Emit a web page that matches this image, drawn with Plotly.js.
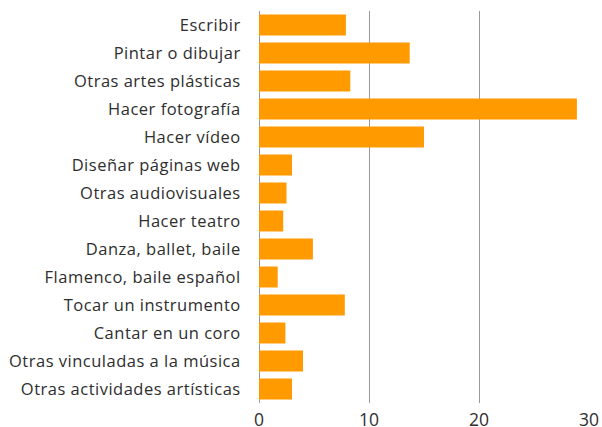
<!DOCTYPE html>
<html>
<head>
<meta charset="utf-8">
<script src="https://cdn.plot.ly/plotly-3.0.1.min.js"></script>
<style>
html,body{margin:0;padding:0;background:#fff;}
.ytick text{letter-spacing:0.5px;}
</style>
</head>
<body>
<div id="chart" style="width:602px;height:427px;"></div>
<script>
const categories = [
  "Escribir",
  "Pintar o dibujar",
  "Otras artes plásticas",
  "Hacer fotografía",
  "Hacer vídeo",
  "Diseñar páginas web",
  "Otras audiovisuales",
  "Hacer teatro",
  "Danza, ballet, baile",
  "Flamenco, baile español",
  "Tocar un instrumento",
  "Cantar en un coro",
  "Otras vinculadas a la música",
  "Otras actividades artísticas"
];
const values = [7.9, 13.7, 8.3, 28.9, 15.0, 3.0, 2.5, 2.2, 4.9, 1.7, 7.8, 2.4, 4.0, 3.0];
const xTicks = [0, 10, 20, 30];

Plotly.newPlot("chart", [{
  type: "bar",
  orientation: "h",
  y: categories,
  x: values,
  marker: {color: "#FF9A00"},
  hoverinfo: "none"
}], {
  width: 602,
  height: 427,
  margin: {l: 259, r: 13, t: 11, b: 24},
  paper_bgcolor: "#fff",
  plot_bgcolor: "#fff",
  bargap: 0.25,
  showlegend: false,
  font: {family: "Open Sans, sans-serif", size: 16.5, color: "#2e2e2e"},
  xaxis: {
    range: [0, 30],
    tickvals: xTicks,
    ticktext: xTicks.map(String),
    showgrid: true,
    gridcolor: "#999",
    gridwidth: 1,
    zeroline: true,
    zerolinecolor: "#999",
    zerolinewidth: 1,
    showline: false,
    ticks: "outside",
    ticklen: 1,
    tickcolor: "rgba(0,0,0,0)",
    tickfont: {size: 17.5, color: "#2e2e2e"},
    fixedrange: true
  },
  yaxis: {
    autorange: "reversed",
    showgrid: false,
    zeroline: false,
    showline: false,
    ticks: "outside",
    ticklen: 14,
    tickcolor: "rgba(0,0,0,0)",
    tickfont: {size: 16.5, color: "#2e2e2e"},
    fixedrange: true
  }
}, {displayModeBar: false, staticPlot: true});
</script>
</body>
</html>
